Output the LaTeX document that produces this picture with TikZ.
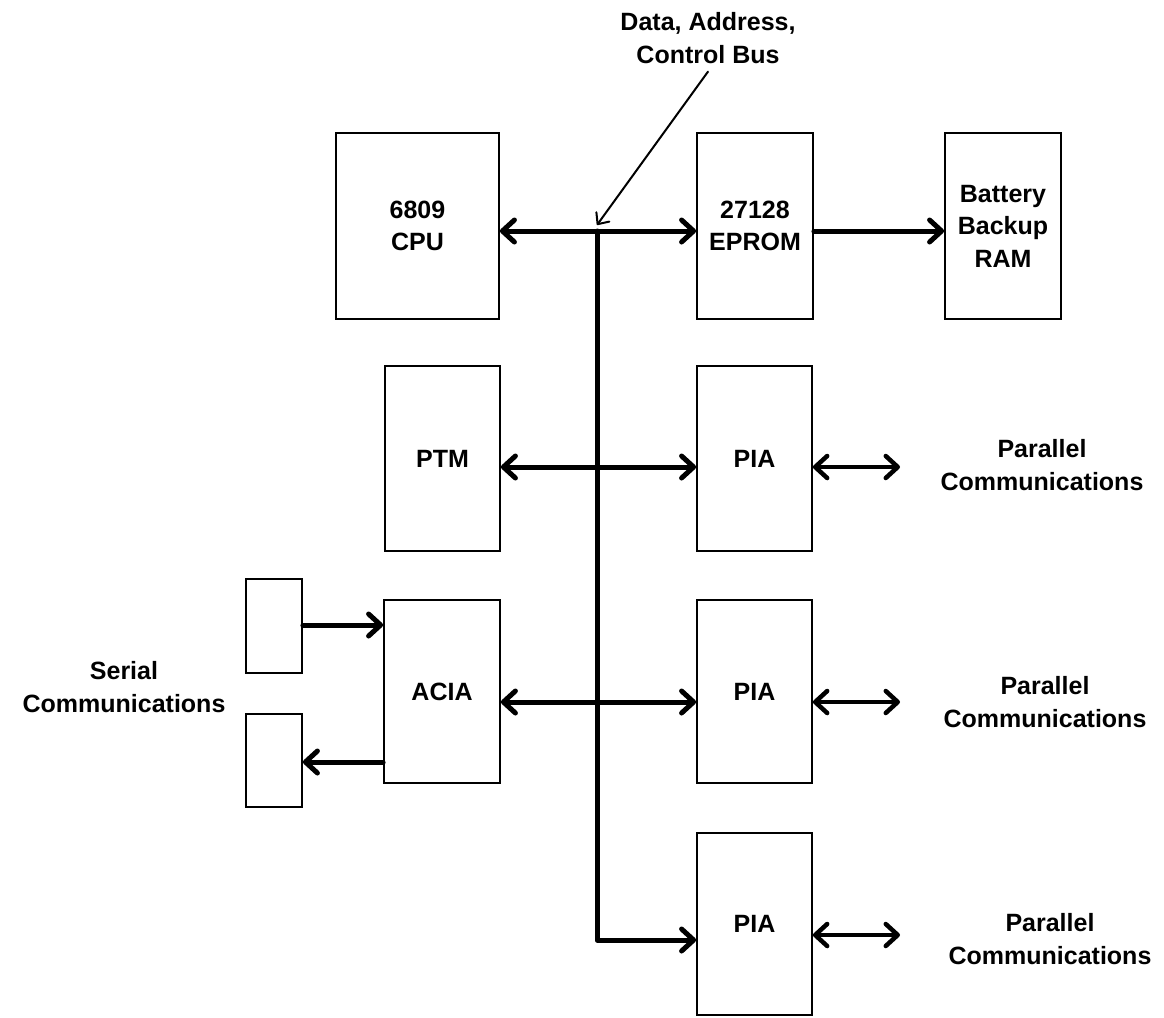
\documentclass[tikz,border=0pt]{standalone}
\usepackage{fontspec}
\setmainfont{Liberation Sans}
\usetikzlibrary{arrows.meta}
\begin{document}
\begin{tikzpicture}[x=1pt,y=-1pt,
  txt/.style={font=\bfseries\fontsize{25}{32.5}\selectfont, align=center, inner sep=0pt},
  box/.style={txt, draw, line width=1.8pt},
  bus/.style={line width=5pt, line cap=round, line join=round},
  sig/.style={line width=4.5pt, line cap=round, line join=round},
  thin/.style={line width=2pt, line cap=round},
  >={Straight Barb[length=12pt,width=22pt,round]}
]
\useasboundingbox (0,0) rectangle (1164,1017);
% boxes
\node[box, minimum width=163pt, minimum height=186pt] (cpu)   at (417.5,226) {6809\\CPU};
\node[box, minimum width=116pt, minimum height=186pt] (eprom) at (755,226) {27128\\EPROM};
\node[box, minimum width=116pt, minimum height=186pt] (ram)   at (1003,226) {Battery\\Backup\\RAM};
\node[box, minimum width=115pt, minimum height=185pt] (ptm)   at (442.5,458.5) {PTM};
\node[box, minimum width=115pt, minimum height=185pt] (pia1)  at (754.5,458.5) {PIA};
\node[box, minimum width=116pt, minimum height=183pt] (acia)  at (442,691.5) {ACIA};
\node[box, minimum width=115pt, minimum height=183pt] (pia2)  at (754.5,691.5) {PIA};
\node[box, minimum width=115pt, minimum height=182pt] (pia3)  at (754.5,924) {PIA};
\node[box, minimum width=56pt, minimum height=94pt] (s1) at (274,626) {};
\node[box, minimum width=56pt, minimum height=93pt] (s2) at (274,760.5) {};
% labels
\node[txt] (buslbl) at (708,38) {Data, Address,\\Control Bus};
\node[txt] (par1) at (1042,465) {Parallel\\Communications};
\node[txt] (par2) at (1045,702) {Parallel\\Communications};
\node[txt] (par3) at (1050,939) {Parallel\\Communications};
\node[txt] (ser) at (124,687) {Serial\\Communications};
% bus coordinates
\coordinate (b0) at (597,231);
\coordinate (b1) at (597,467);
\coordinate (b2) at (597,702);
\coordinate (b3) at (597,940);
\coordinate (e1) at (900,467);
\coordinate (e2) at (900,702);
\coordinate (e3) at (900,935);
% bus
\draw[bus,->] (b0) -- (b3) -- (pia3.west |- b3);
\draw[bus,<->] (cpu.east |- b0) -- (eprom.west |- b0);
\draw[bus,<->] (ptm.east |- b1) -- (pia1.west |- b1);
\draw[bus,<->] (acia.east |- b2) -- (pia2.west |- b2);
\draw[bus,->] (eprom.east |- b0) -- (ram.west |- b0);
% parallel ports
\draw[sig,<->] (pia1.east |- e1) -- (e1);
\draw[sig,<->] (pia2.east |- e2) -- (e2);
\draw[sig,<->] (pia3.east |- e3) -- (e3);
% serial
\draw[bus,->] (s1.east) ++(0,-1) -- (acia.west |- 0,625);
\draw[bus,->] (acia.west |- 0,762) -- (s2.east |- 0,762);
% leader
\draw[thin,-{Straight Barb[length=9pt,width=16pt,round]}] (buslbl.south) ++(0,8) -- ([yshift=6pt]b0);
\end{tikzpicture}
\end{document}
